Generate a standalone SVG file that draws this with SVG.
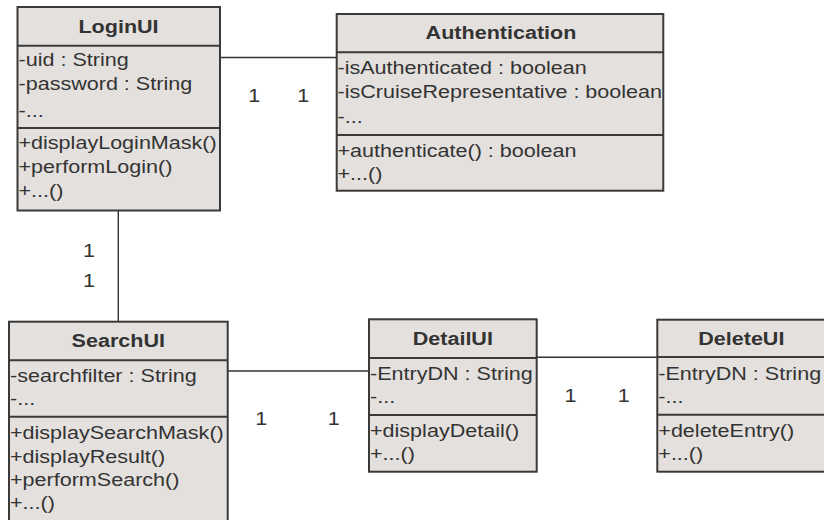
<svg xmlns="http://www.w3.org/2000/svg" width="824" height="520" viewBox="0 0 824 520">
<style>
.box{fill:#e4e0dd;stroke:#3a3a3a;stroke-width:2}
.sep{stroke:#3a3a3a;stroke-width:2}
.con{stroke:#333;stroke-width:1.4;fill:none}
text{font-family:"Liberation Sans",Arial,sans-serif;font-size:18.5px;fill:#333}
.title{font-weight:bold;text-anchor:middle}
.lbl{text-anchor:middle}
</style>
<rect width="824" height="520" fill="#fff"/>
<g id="connectors">
<line class="con" x1="220" y1="57.5" x2="337" y2="57.5"/>
<line class="con" x1="118.3" y1="210.5" x2="118.3" y2="321.7"/>
<line class="con" x1="227.7" y1="371" x2="369" y2="371"/>
<line class="con" x1="536.7" y1="357.3" x2="657.3" y2="357.3"/>
<text class="lbl" transform="translate(254.3,101.7) scale(1.165,1)">1</text>
<text class="lbl" transform="translate(303.3,101.7) scale(1.165,1)">1</text>
<text class="lbl" transform="translate(89,257.3) scale(1.165,1)">1</text>
<text class="lbl" transform="translate(89,286.7) scale(1.165,1)">1</text>
<text class="lbl" transform="translate(261.3,425) scale(1.165,1)">1</text>
<text class="lbl" transform="translate(333.8,425) scale(1.165,1)">1</text>
<text class="lbl" transform="translate(570.5,401.7) scale(1.165,1)">1</text>
<text class="lbl" transform="translate(623.8,401.7) scale(1.165,1)">1</text>
</g>
<g id="LoginUI">
<rect class="box" x="17.5" y="7" width="202.5" height="203.5"/>
<line class="sep" x1="17.5" y1="45.7" x2="220" y2="45.7"/>
<line class="sep" x1="17.5" y1="128" x2="220" y2="128"/>
<text class="title" transform="translate(118.5,33.3) scale(1.165,1)">LoginUI</text>
<g transform="translate(18.5,0) scale(1.165,1)">
<text y="66">-uid : String</text>
<text y="90.5">-password : String</text>
<text y="117">-...</text>
<text y="149">+displayLoginMask()</text>
<text y="173">+performLogin()</text>
<text y="197">+...()</text>
</g>
</g>
<g id="Authentication">
<rect class="box" x="336.7" y="14" width="326.6" height="176.7"/>
<line class="sep" x1="336.7" y1="52.3" x2="663.3" y2="52.3"/>
<line class="sep" x1="336.7" y1="135" x2="663.3" y2="135"/>
<text class="title" transform="translate(501,38.5) scale(1.165,1)">Authentication</text>
<g transform="translate(337.5,0) scale(1.165,1)">
<text y="74">-isAuthenticated : boolean</text>
<text y="98.3">-isCruiseRepresentative : boolean</text>
<text y="123">-...</text>
<text y="157">+authenticate() : boolean</text>
<text y="180.5">+...()</text>
</g>
</g>
<g id="SearchUI">
<rect class="box" x="9" y="321.7" width="218.7" height="210"/>
<line class="sep" x1="9" y1="360.3" x2="227.7" y2="360.3"/>
<line class="sep" x1="9" y1="416.7" x2="227.7" y2="416.7"/>
<text class="title" transform="translate(118.3,346.7) scale(1.165,1)">SearchUI</text>
<g transform="translate(10,0) scale(1.165,1)">
<text y="381.7">-searchfilter : String</text>
<text y="405">-...</text>
<text y="439.5">+displaySearchMask()</text>
<text y="463">+displayResult()</text>
<text y="486.5">+performSearch()</text>
<text y="509">+...()</text>
</g>
</g>
<g id="DetailUI">
<rect class="box" x="369" y="319.3" width="167.7" height="152.4"/>
<line class="sep" x1="369" y1="358" x2="536.7" y2="358"/>
<line class="sep" x1="369" y1="415" x2="536.7" y2="415"/>
<text class="title" transform="translate(452.8,345) scale(1.165,1)">DetailUI</text>
<g transform="translate(370,0) scale(1.165,1)">
<text y="380">-EntryDN : String</text>
<text y="403">-...</text>
<text y="437">+displayDetail()</text>
<text y="460.5">+...()</text>
</g>
</g>
<g id="DeleteUI">
<rect class="box" x="657.3" y="319.7" width="168" height="152"/>
<line class="sep" x1="657.3" y1="357" x2="826" y2="357"/>
<line class="sep" x1="657.3" y1="414.7" x2="826" y2="414.7"/>
<text class="title" transform="translate(741.3,345) scale(1.165,1)">DeleteUI</text>
<g transform="translate(658.3,0) scale(1.165,1)">
<text y="380">-EntryDN : String</text>
<text y="403">-...</text>
<text y="437">+deleteEntry()</text>
<text y="460.5">+...()</text>
</g>
</g>
</svg>
